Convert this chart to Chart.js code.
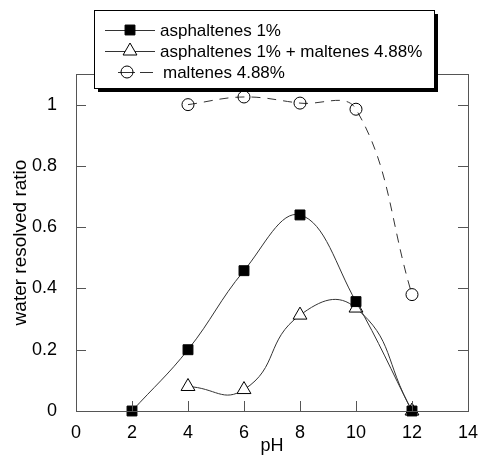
<!DOCTYPE html>
<html><head><meta charset="utf-8">
<script src="https://cdn.jsdelivr.net/npm/chart.js@4.4.0/dist/chart.umd.min.js"></script>
<style>html,body{margin:0;padding:0;background:#fff;}#wrap{width:481px;height:460px;}</style>
</head><body><div id="wrap"><canvas id="c" width="481" height="460"></canvas></div>
<script>
const pH = [2, 4, 6, 8, 10, 12];
const asph = [0, 0.20, 0.458, 0.64, 0.357, 0];
const asphMalt = [null, 0.08, 0.07, 0.313, 0.336, 0];
const malt = [null, 1.0, 1.025, 1.005, 0.985, 0.38];
const xTicks = [0, 2, 4, 6, 8, 10, 12, 14];
const yTicks = [0, 0.2, 0.4, 0.6, 0.8, 1];
const yTickLabels = ['0', '0.2', '0.4', '0.6', '0.8', '1'];
const legendLabels = ['asphaltenes 1%', 'asphaltenes 1% + maltenes 4.88%', 'maltenes 4.88%'];

const FONT = '"Liberation Sans", Arial, sans-serif';
const toXY = (ys) => pH.map((x, i) => ys[i] === null ? null : {x: x, y: ys[i]}).filter(p => p);

const frameColor = '#555';
const lineColor = '#333';

const tickPlugin = {
  id: 'inticks',
  afterDatasetsDraw(chart) {
    const ctx = chart.ctx, a = chart.chartArea;
    const xs = chart.scales.x, ys = chart.scales.y;
    ctx.save();
    ctx.strokeStyle = frameColor; ctx.lineWidth = 1;
    ctx.beginPath();
    xTicks.forEach(v => {
      const px = Math.round(xs.getPixelForValue(v)) + 0.5;
      ctx.moveTo(px, a.bottom); ctx.lineTo(px, a.bottom - 10);
      ctx.moveTo(px, a.top); ctx.lineTo(px, a.top + 10);
    });
    yTicks.forEach(v => {
      const py = Math.round(ys.getPixelForValue(v)) + 0.5;
      ctx.moveTo(a.left, py); ctx.lineTo(a.left + 10, py);
      ctx.moveTo(a.right, py); ctx.lineTo(a.right - 10, py);
    });
    ctx.stroke();
    ctx.strokeRect(Math.round(a.left) + 0.5, Math.round(a.top) + 0.5, Math.round(a.right - a.left), Math.round(a.bottom - a.top));
    ctx.restore();
  },
  afterDraw(chart) {
    const ctx = chart.ctx;
    const bx = 94, by = 10, bw = 340, bh = 78;
    ctx.save();
    ctx.fillStyle = '#000';
    ctx.fillRect(bx + 4, by + 4, bw, bh);
    ctx.fillStyle = '#fff';
    ctx.fillRect(bx, by, bw, bh);
    ctx.strokeStyle = '#000'; ctx.lineWidth = 1;
    ctx.strokeRect(bx + 0.5, by + 0.5, bw, bh);
    const rows = [30, 51, 72];
    chart.data.datasets.forEach((ds, i) => {
      const y = rows[i];
      ctx.strokeStyle = lineColor; ctx.lineWidth = 1;
      ctx.setLineDash([]);
      ctx.beginPath();
      if (ds.borderDash) {
        ctx.moveTo(118, y + 0.5); ctx.lineTo(135, y + 0.5);
        ctx.moveTo(140, y + 0.5); ctx.lineTo(153, y + 0.5);
      } else {
        ctx.moveTo(105, y + 0.5); ctx.lineTo(155, y + 0.5);
      }
      ctx.stroke();
      ctx.fillStyle = ds.pointStyle === 'rect' ? '#000' : (ds.pointStyle === 'circle' ? 'rgba(0,0,0,0)' : '#fff');
      ctx.strokeStyle = '#000';
      Chart.helpers.drawPoint(ctx, {pointStyle: ds.pointStyle, radius: ds.pointRadius, borderWidth: 1}, ds.borderDash ? 127 : 130, y);
      ctx.fillStyle = '#000';
      ctx.font = '17px ' + FONT;
      ctx.textBaseline = 'middle';
      ctx.fillText(legendLabels[i], i === 2 ? 163 : 160, y + 1);
    });
    ctx.restore();
  }
};

new Chart(document.getElementById('c'), {
  type: 'line',
  data: {
    datasets: [
      {label: legendLabels[0], data: toXY(asph), borderColor: lineColor, borderWidth: 1, tension: 0.4,
       pointStyle: 'rect', pointRadius: 7, pointBackgroundColor: '#000', pointBorderColor: '#000', pointBorderWidth: 1},
      {label: legendLabels[1], data: toXY(asphMalt), borderColor: lineColor, borderWidth: 1, tension: 0.5,
       pointStyle: 'triangle', pointRadius: 8, pointBackgroundColor: '#fff', pointBorderColor: '#000', pointBorderWidth: 1},
      {label: legendLabels[2], data: toXY(malt), borderColor: lineColor, borderWidth: 1, tension: 0.4, borderDash: [9, 7],
       pointStyle: 'circle', pointRadius: 6, pointBackgroundColor: 'rgba(0,0,0,0)', pointBorderColor: '#000', pointBorderWidth: 1}
    ]
  },
  options: {
    responsive: false, animation: false,
    layout: {padding: {top: 74, right: 12, left: 0, bottom: 0}},
    plugins: {legend: {display: false}, tooltip: {enabled: false}},
    elements: {line: {fill: false}},
    datasets: {line: {clip: false}},
    scales: {
      x: {type: 'linear', min: 0, max: 14,
          afterBuildTicks: s => { s.ticks = xTicks.map(v => ({value: v})); },
          afterFit: s => { s.height = 49; },
          grid: {display: false}, border: {display: false},
          ticks: {color: '#000', padding: 3, font: {family: FONT, size: 18}, maxRotation: 0, autoSkip: false},
          title: {display: true, text: 'pH', color: '#000', font: {family: FONT, size: 18}, padding: {top: 0, bottom: 3}}},
      y: {type: 'linear', min: 0, max: 1.1,
          afterBuildTicks: s => { s.ticks = yTicks.map(v => ({value: v})); },
          afterFit: s => { s.width = 76; },
          grid: {display: false}, border: {display: false},
          ticks: {color: '#000', padding: 11, font: {family: FONT, size: 18}, autoSkip: false,
                  callback: (v, i) => yTickLabels[i]},
          title: {display: true, text: 'water resolved ratio', color: '#000', font: {family: FONT, size: 19}, padding: {top: 9, bottom: 0}}}
    }
  },
  plugins: [tickPlugin]
});
</script></body></html>
